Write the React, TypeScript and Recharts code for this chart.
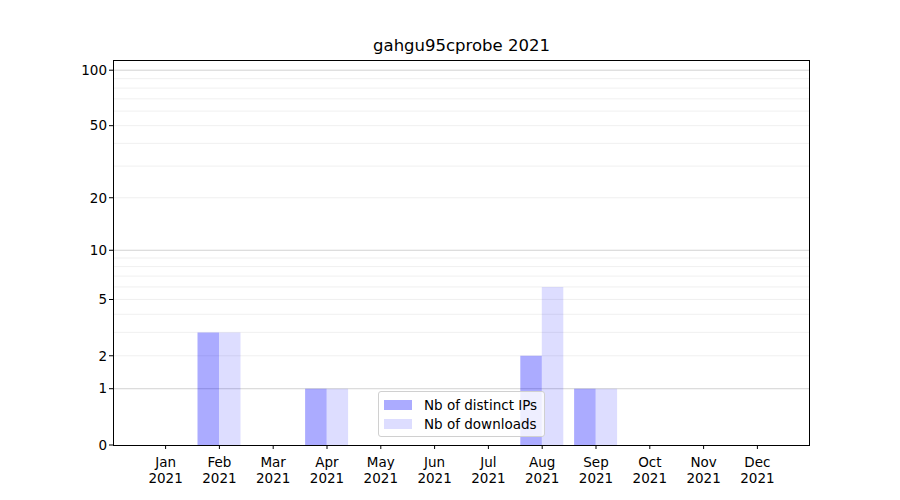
import { BarChart, Bar, XAxis, YAxis, CartesianGrid } from 'recharts';

const months = ['Jan', 'Feb', 'Mar', 'Apr', 'May', 'Jun', 'Jul', 'Aug', 'Sep', 'Oct', 'Nov', 'Dec'];
const year = '2021';
const distinctIps = [0, 3, 0, 1, 0, 0, 0, 2, 1, 0, 0, 0];
const downloads = [0, 3, 0, 1, 0, 0, 0, 6, 1, 0, 0, 0];
const yTicks = [0, 1, 2, 5, 10, 20, 50, 100];
const majorGrid = [1, 10, 100];
const minorGrid = [2, 3, 4, 5, 6, 7, 8, 9, 20, 30, 40, 50, 60, 70, 80, 90];
const yMax = 113.5;

const seriesList = [
  { key: 'ips', name: 'Nb of distinct IPs', opacity: 0.33 },
  { key: 'dl', name: 'Nb of downloads', opacity: 0.135 },
];

// y axis is drawn on log10(1 + x)
const tf = (v: number) => Math.log10(1 + v);

const font = 'DejaVu Sans, sans-serif';

const rows = months.map((m, i) => ({
  month: m,
  ips: tf(distinctIps[i]),
  dl: tf(downloads[i]),
}));

function MonthTick({ x, y, payload }: any) {
  return (
    <text x={x} y={y} textAnchor="middle" fontFamily={font} fontSize={13.5} fill="#000">
      <tspan x={x} dy={16}>{payload.value}</tspan>
      <tspan x={x} dy={16}>{year}</tspan>
    </text>
  );
}

function yLabel(v: number) {
  let best = yTicks[0];
  for (const t of yTicks) if (Math.abs(tf(t) - v) < Math.abs(tf(best) - v)) best = t;
  return String(best);
}

function LegendBox() {
  return (
    <div
      style={{
        position: 'absolute',
        left: 378,
        top: 391,
        width: 167,
        height: 46,
        border: '1px solid #d0d0d0',
        borderRadius: 3,
        background: 'rgba(255,255,255,0.8)',
        fontFamily: font,
        fontSize: 13.5,
        padding: '3px 0 0 5px',
        boxSizing: 'border-box',
      }}
    >
      {seriesList.map((s) => (
        <div key={s.key} style={{ display: 'flex', alignItems: 'center', height: 19 }}>
          <span style={{ width: 28, height: 10, background: '#0000ff', opacity: s.opacity, marginRight: 12 }} />
          <span>{s.name}</span>
        </div>
      ))}
    </div>
  );
}

export default function App() {
  return (
    <div style={{ position: 'absolute', left: 0, top: 0, width: 900, height: 500, background: '#fff' }}>
      <div
        style={{
          position: 'absolute',
          left: 113,
          width: 697,
          top: 35,
          textAlign: 'center',
          fontFamily: font,
          fontSize: 16.5,
          lineHeight: '22px',
        }}
      >
        gahgu95cprobe 2021
      </div>
      <BarChart
        width={900}
        height={500}
        data={rows}
        margin={{ top: 60, right: 90, left: 53, bottom: 0 }}
        barGap={0}
        barSize={21.5}
      >
        <CartesianGrid vertical={false} horizontalValues={minorGrid.map(tf)} stroke="#ececec" strokeWidth={0.8} />
        <CartesianGrid vertical={false} horizontalValues={majorGrid.map(tf)} stroke="#c8c8c8" strokeWidth={0.8} />
        <XAxis
          dataKey="month"
          height={55}
          padding={{ left: 25.7, right: 25.7 }}
          tick={<MonthTick />}
          tickLine={{ stroke: '#000' }}
          tickSize={4}
          axisLine={false}
          interval={0}
        />
        <YAxis
          width={60}
          type="number"
          domain={[0, tf(yMax)]}
          ticks={yTicks.map(tf)}
          tickFormatter={yLabel}
          tick={{ fontFamily: font, fontSize: 13.5, fill: '#000' }}
          tickLine={{ stroke: '#000' }}
          tickSize={4}
          axisLine={false}
          interval={0}
        />
        {seriesList.map((s) => (
          <Bar
            key={s.key}
            dataKey={s.key}
            name={s.name}
            fill="#0000ff"
            fillOpacity={s.opacity}
            isAnimationActive={false}
          />
        ))}
      </BarChart>
      {/* axes frame */}
      <div
        style={{
          position: 'absolute',
          left: 113,
          top: 60,
          width: 697,
          height: 386,
          border: '1px solid #000',
          boxSizing: 'border-box',
          pointerEvents: 'none',
        }}
      />
      <LegendBox />
    </div>
  );
}
